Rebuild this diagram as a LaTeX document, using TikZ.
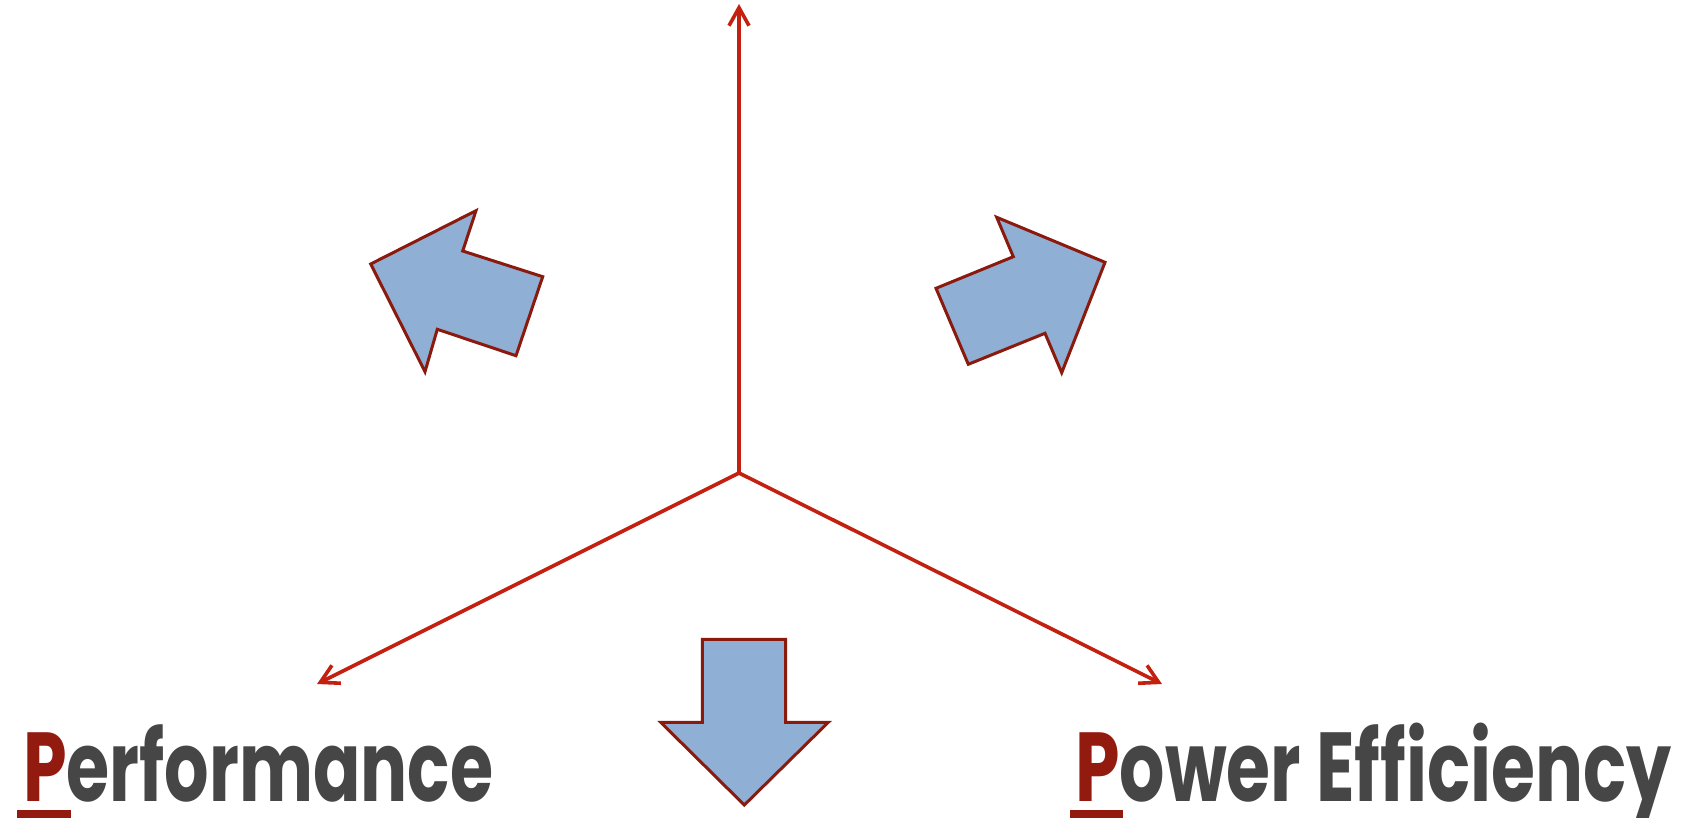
\documentclass[tikz,border=0pt]{standalone}
\usepackage{fontspec}
\setmainfont{Poppins}
\usetikzlibrary{arrows.meta}
\definecolor{axisred}{HTML}{C3200F}
\definecolor{edgered}{HTML}{8B1A0E}
\definecolor{fillblue}{HTML}{8FAFD5}
\definecolor{pred}{HTML}{931A0E}
\definecolor{tgray}{HTML}{464646}
\tikzset{
  axis/.style={draw=axisred, line width=3.6pt, -{Straight Barb[length=18pt,width=20pt,line width=3.6pt]}},
  blockarrow/.style={draw=edgered, fill=fillblue, line width=3pt, line join=miter},
  label/.style={anchor=base west, inner sep=0pt, font=\fontsize{98}{98}\selectfont\bfseries}
}
\begin{document}
\begin{tikzpicture}[x=1pt,y=-1pt]
\useasboundingbox (0,0) rectangle (1686,818);
\coordinate (O) at (739,473);
\coordinate (top) at (739,4);
\coordinate (left) at (317,684);
\coordinate (right) at (1162,684);
\draw[axis] (O) -- (top);
\draw[axis] (O) -- (left);
\draw[axis] (O) -- (right);
% left block arrow
\draw[blockarrow] (370.7,264) -- (476,210.7) -- (462.7,251) -- (542.7,276.7) -- (516,355.7) -- (437.3,329.3) -- (425,371.7) -- cycle;
% right block arrow
\draw[blockarrow] (936,288.3) -- (1013.3,256.7) -- (996.7,217.3) -- (1105,262.3) -- (1061.7,372.7) -- (1045,333.3) -- (968.3,364.3) -- cycle;
% down block arrow
\draw[blockarrow] (702.3,639.3) -- (785.7,639.3) -- (785.7,722.3) -- (828.3,722.3) -- (744.3,805) -- (660.7,722.3) -- (702.3,722.3) -- cycle;
% labels
\node[label] (perf) at (23,801) {\resizebox{470pt}{\height}{\textcolor{pred}{P}\textcolor{tgray}{erformance}}};
\fill[pred] (17,810) rectangle (71,818);
\node[label] (power) at (1075,801) {\resizebox{596pt}{\height}{\textcolor{pred}{P}\textcolor{tgray}{ower Efficiency}}};
\fill[pred] (1070,810) rectangle (1123,818);
\end{tikzpicture}
\end{document}
